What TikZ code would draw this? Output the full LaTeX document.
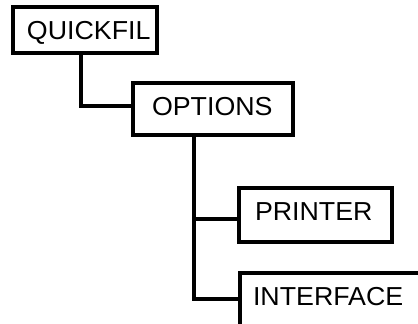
\documentclass[tikz,border=0pt]{standalone}
\usepackage{fontspec}
\newfontfamily\labfont[FakeStretch=1.03]{Liberation Sans}
\begin{document}
\begin{tikzpicture}[x=1pt,y=-1pt,
  box/.style={draw=black, line width=3.2pt, inner sep=0pt, outer sep=0pt, fill=white},
  lbl/.style={anchor=base west, inner sep=0pt, outer sep=0pt, font=\labfont\fontsize{26}{30}\selectfont},
  link/.style={draw=black, line width=3.2pt, line cap=butt, line join=miter}]
\useasboundingbox (0,0) rectangle (418,324);
% boxes
\node[box, minimum width=144pt, minimum height=46pt] (q) at (85,30) {};
\node[box, minimum width=160pt, minimum height=52pt] (o) at (213,109) {};
\node[box, minimum width=153pt, minimum height=54pt] (p) at (315.5,215) {};
\coordinate (itl) at (240,273);
\coordinate (itr) at (420,273);
\coordinate (ibl) at (240,326);
\draw[link] (itr) -- (itl) -- (ibl);
% labels
\node[lbl] (qt) at (27,39) {QUICKFIL};
\node[lbl] (ot) at (152,115.5) {OPTIONS};
\node[lbl] (pt) at (255,220) {PRINTER};
\node[lbl] (it) at (253,305.5) {INTERFACE};
% connectors
\coordinate (qs) at (81,53);
\coordinate (qj) at (81,106);
\coordinate (ow) at (133,106);
\coordinate (os) at (194,135);
\coordinate (pj) at (194,219);
\coordinate (pw) at (239,219);
\coordinate (ij) at (194,299);
\coordinate (iw) at (240,299);
\draw[link] (qs) -- (qj) -- (ow);
\draw[link] (os) -- (ij) -- (iw);
\draw[link] (pj) -- (pw);
\end{tikzpicture}
\end{document}
